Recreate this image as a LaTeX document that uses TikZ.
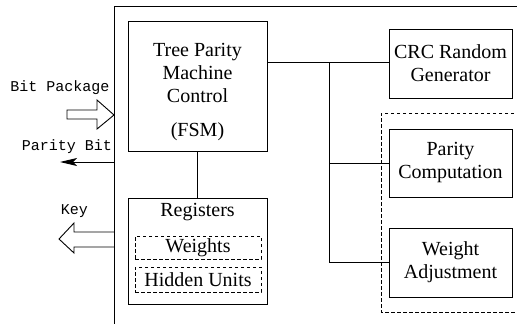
\documentclass[tikz,border=0pt]{standalone}
\usepackage{fontspec}
\setmainfont{Liberation Serif}
\setmonofont{Liberation Mono}
\usetikzlibrary{arrows.meta}
\begin{document}
\begin{tikzpicture}[x=1pt,y=-1pt,line width=0.9pt,
  box/.style={draw,rectangle,inner sep=0pt,align=center,font=\fontsize{20}{23}\selectfont},
  dbox/.style={box,dashed,dash pattern=on 3.5pt off 2.5pt},
  txt/.style={inner sep=0pt,align=center,font=\fontsize{20}{23}\selectfont},
  lbl/.style={inner sep=0pt,font=\ttfamily\fontsize{15}{17}\selectfont},
  conn/.style={draw,line width=0.9pt}]
\useasboundingbox (0,0) rectangle (517,324);
% outer frame
\draw (517,6) -- (114,6) -- (114,324);
% dashed group frame
\draw[dash pattern=on 3.5pt off 2.5pt] (520,113) -- (381,113) -- (381,312) -- (520,312);
% FSM
\node[box,minimum width=139pt,minimum height=130pt] (fsm) at (197.5,86) {};
\node[txt] (fsmtxt) at (197.5,92) {Tree Parity\\Machine\\Control\\[11pt](FSM)};
% Registers
\node[box,minimum width=139pt,minimum height=106pt] (reg) at (197.5,251) {};
\node[txt] (regtxt) at (197.5,212) {Registers};
\node[dbox,minimum width=126pt,minimum height=23pt] (w) at (198,247.5) {Weights};
\node[dbox,minimum width=126pt,minimum height=25pt] (hu) at (198,279.5) {Hidden Units};
% right boxes
\node[box,minimum width=123pt,minimum height=69pt] (crc) at (450.5,63.5) {CRC Random\\Generator};
\node[box,minimum width=123pt,minimum height=68pt] (pc) at (450.5,163) {Parity\\Computation};
\node[box,minimum width=123pt,minimum height=69pt] (wa) at (450.5,262.5) {Weight\\Adjustment};
% connectors
\coordinate (j1) at (329,62);
\draw (fsm.east |- j1) -- (crc.west |- j1);
\draw (j1) -- (j1 |- wa.west);
\draw (j1 |- pc.west) -- (pc.west);
\draw (j1 |- wa.west) -- (wa.west);
\draw (fsm.south) -- (reg.north);
% labels
\node[lbl] (bp) at (60,88) {Bit Package};
\node[lbl] (pb) at (67,147) {Parity Bit};
\node[lbl] (key) at (74.5,211) {Key};
% Bit Package block arrow
\draw (67,110) -- (97,110) -- (97,100) -- (114,115) -- (97,129) -- (97,119) -- (67,119) -- cycle;
% Parity bit arrow
\coordinate (pbs) at (114,162);
\coordinate (pbe) at (60,162);
\draw[-{Stealth[length=17pt,width=8pt,inset=4pt]}] (pbs) -- (pbe);
% Key block arrow
\draw (114,232) -- (74,232) -- (74,223) -- (59,239) -- (74,253) -- (74,247) -- (114,247);
\end{tikzpicture}
\end{document}
